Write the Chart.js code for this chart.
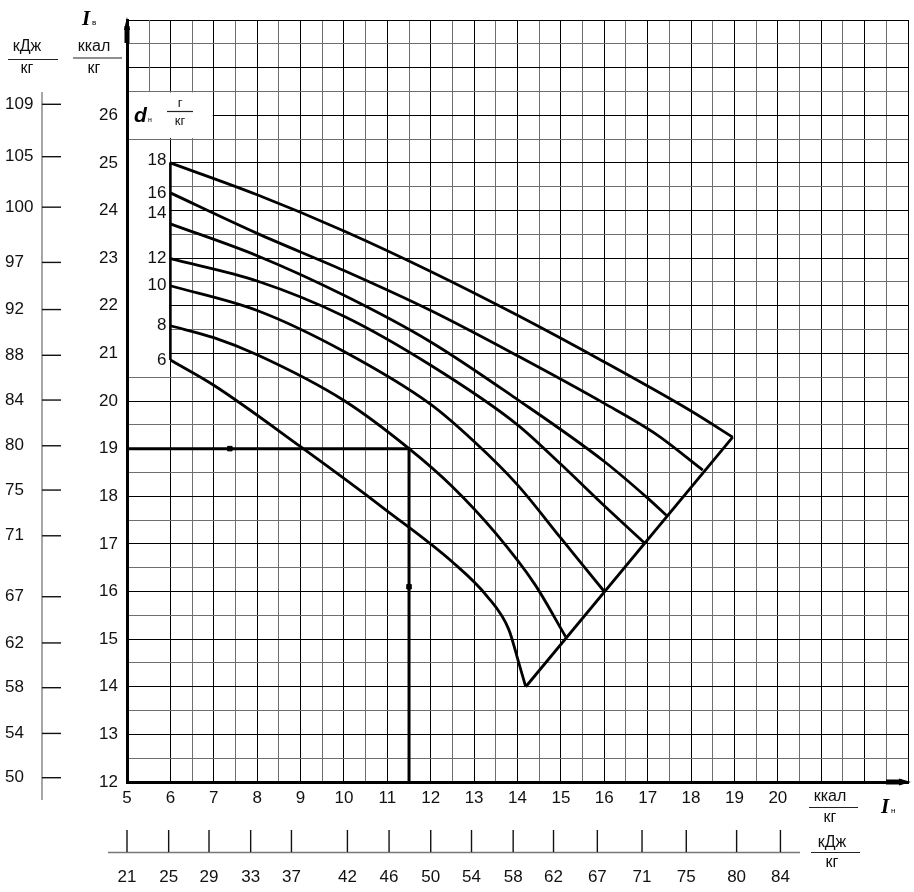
<!DOCTYPE html>
<html><head><meta charset="utf-8">
<script src="https://cdn.jsdelivr.net/npm/chart.js@4.4.1/dist/chart.umd.min.js"></script>
<style>html,body{margin:0;padding:0;background:#fff;overflow:hidden}canvas{display:block}</style>
</head><body>
<canvas id="c" width="914" height="892" style="width:914px;height:892px"></canvas>
<script>
// ---- axis ranges / tick labels ----
const X_MIN = 5, X_MAX = 23, X_LABEL_MAX = 20;
const Y_MIN = 12, Y_MAX = 28, Y_LABEL_MAX = 26;

// ---- moisture content curves d, g/kg : [I_n (kcal/kg), I_v (kcal/kg)] ----
const dLevels = ['18', '16', '14', '12', '10', '8', '6'];
const d18 = [[6,25.0],[8,24.33],[10,23.57],[12,22.72],[14,21.8],[16,20.82],[18,19.79],[18.96,19.24]];
const d16 = [[6,24.37],[8,23.52],[10,22.74],[12,21.9],[14,20.95],[16,19.95],[17.2,19.3],[18.27,18.55]];
const d14 = [[6,23.72],[8,23.05],[10,22.22],[12,21.24],[14,20.03],[16,18.73],[17,17.96],[17.43,17.6]];
const d12 = [[6,22.99],[8,22.52],[10,21.78],[12,20.75],[14,19.5],[15,18.67],[16,17.8],[16.95,17.0]];
const d10 = [[6,22.42],[8,21.9],[10,21.04],[12,19.93],[13,19.15],[14,18.24],[15,17.12],[16,16.0]];
const d8  = [[6,21.58],[7,21.33],[8,20.97],[10,20.01],[11.5,19.0],[12.5,18.2],[13.5,17.22],[14.4,16.15],[15.11,15.05]];
const d6  = [[6,20.86],[7,20.33],[9,19.04],[11,17.69],[12.5,16.62],[13.3,15.9],[13.8,15.2],[14.03,14.5],[14.19,14.0]];
const dCurves = [d18, d16, d14, d12, d10, d8, d6];

const saturationLine = [[14.19,14.0],[18.96,19.24]];
const leftBoundary = [[6,25.0],[6,20.86]];
const examplePath = [[5,19],[7.37,19],[11.5,19],[11.5,16.1],[11.5,12]];
const exampleMarks = [0,1,0,1,0];

// ---- secondary kJ/kg scales (labels and where they sit on the kcal scales) ----
const kjLeftLabels = ['109','105','100','97','92','88','84','80','75','71','67','62','58','54','50'];
const kjLeftAt = [26.23,25.13,24.07,22.91,21.92,20.96,20.02,19.06,18.13,17.17,15.89,14.92,13.98,13.02,12.09];
const kjBottomLabels = ['21','25','29','33','37','42','46','50','54','58','62','67','71','75','80','84'];
const kjBottomAt = [5.0,5.96,6.89,7.85,8.79,10.08,11.04,12.0,12.94,13.9,14.83,15.84,16.87,17.89,19.05,20.06];

// ---- styles ----
const SANS = "'Liberation Sans', Arial, sans-serif";
const SERIF = "'Liberation Serif', 'Times New Roman', serif";
const MAJOR = '#000', MINOR = '#6e6e6e', TXT = '#111';
const toPts = arr => arr.map(p => ({x: p[0], y: p[1]}));

const gridColor = ctx => {
  const v = ctx.tick.value;
  if (ctx.scale.axis === 'x' && v === 5.5) return 'rgba(0,0,0,0)';
  return Number.isInteger(v) ? MAJOR : MINOR;
};

const datasets = [];
dCurves.forEach((c, i) => datasets.push({
  label: 'd=' + dLevels[i], data: toPts(c), showLine: true, borderColor: '#000',
  borderWidth: 2.8, pointRadius: 0, cubicInterpolationMode: 'monotone', fill: false
}));
datasets.push({label: 'sat', data: toPts(saturationLine), showLine: true, borderColor: '#000', borderWidth: 2.8, pointRadius: 0});
datasets.push({label: 'bound', data: toPts(leftBoundary), showLine: true, borderColor: '#000', borderWidth: 2.6, pointRadius: 0});
datasets.push({label: 'example', data: toPts(examplePath), showLine: true, borderColor: '#000', borderWidth: 3,
  pointRadius: exampleMarks.map(m => m ? 3.2 : 0), pointStyle: 'rect', pointBackgroundColor: '#000', pointBorderColor: '#000', pointBorderWidth: 1});

function txt(ctx, s, x, y, font, align, base) {
  ctx.font = font; ctx.textAlign = align || 'left'; ctx.textBaseline = base || 'middle';
  ctx.fillText(s, x, y);
}
function hline(ctx, x0, x1, y, w, c) {
  ctx.strokeStyle = c; ctx.lineWidth = w; ctx.beginPath(); ctx.moveTo(x0, y); ctx.lineTo(x1, y); ctx.stroke();
}
function vline(ctx, x, y0, y1, w, c) {
  ctx.strokeStyle = c; ctx.lineWidth = w; ctx.beginPath(); ctx.moveTo(x, y0); ctx.lineTo(x, y1); ctx.stroke();
}
function fraction(ctx, top, bottom, cx, yTop, yLine, yBot, x0, x1, font) {
  ctx.fillStyle = TXT;
  txt(ctx, top, cx, yTop, font, 'center');
  hline(ctx, x0, x1, yLine, 1.2, '#222');
  txt(ctx, bottom, cx, yBot, font, 'center');
}

const decor = {
  id: 'decor',
  beforeDatasetsDraw(chart) {
    const {ctx, scales: {x, y}} = chart;
    ctx.save();
    ctx.fillStyle = '#fff';
    const blank = (x0, y0, x1, y1) => {
      const l = x.getPixelForValue(x0) + 2, r = x.getPixelForValue(x1) - 1;
      const t = y.getPixelForValue(y1) + 1, b = y.getPixelForValue(y0) - 1;
      ctx.fillRect(l, t, r - l, b - t);
    };
    blank(5, 20.5, 6, 25.5);
    blank(5, 25.5, 7, 26.5);
    const px = Math.round(x.getPixelForValue(5.5)) + 0.5;
    vline(ctx, px, y.getPixelForValue(Y_MAX), y.getPixelForValue(26.5), 1, MINOR);
    ctx.restore();
  },
  afterDraw(chart) {
    const {ctx, scales: {x, y}, chartArea: ca} = chart;
    ctx.save();
    ctx.fillStyle = '#000';
    // axis arrows
    const ax = x.getPixelForValue(X_MIN), ay = y.getPixelForValue(Y_MIN);
    ctx.beginPath(); ctx.moveTo(ax, ca.top - 3); ctx.lineTo(ax + 3, ca.top + 10); ctx.lineTo(ax - 3, ca.top + 10); ctx.closePath(); ctx.fill();
    vline(ctx, ax, ca.top + 6, ca.top + 23, 5, '#000');
    ctx.beginPath(); ctx.moveTo(ca.right + 3, ay); ctx.lineTo(ca.right - 9, ay - 3.5); ctx.lineTo(ca.right - 9, ay + 3.5); ctx.closePath(); ctx.fill();
    hline(ctx, ca.right - 22, ca.right - 6, ay, 5, '#000');

    // curve labels
    ctx.fillStyle = TXT;
    const lx = x.getPixelForValue(6) - 4;
    dLevels.forEach((lab, i) => {
      let py = y.getPixelForValue(dCurves[i][0][1]);
      if (lab === '14') py -= 11;
      if (lab === '18') py -= 3;
      txt(ctx, lab, lx, py, '17px ' + SANS, 'right');
    });

    // left kJ/kg scale
    vline(ctx, 42, 92, 800, 1.3, '#777');
    kjLeftLabels.forEach((lab, i) => {
      const py = y.getPixelForValue(kjLeftAt[i]);
      hline(ctx, 42, 61, py, 1.4, '#111');
      ctx.fillStyle = TXT;
      txt(ctx, lab, 5, py, '17px ' + SANS, 'left');
    });
    // bottom kJ/kg scale
    hline(ctx, 108, 800, 852.5, 1.3, '#777');
    kjBottomLabels.forEach((lab, i) => {
      const px = x.getPixelForValue(kjBottomAt[i]);
      vline(ctx, px, 830, 852, 1.4, '#111');
      ctx.fillStyle = TXT;
      txt(ctx, lab, px, 877, '17px ' + SANS, 'center');
    });

    // unit fractions
    fraction(ctx, 'кДж', 'кг', 27, 47, 59.5, 69, 8, 58, '16px ' + SANS);
    fraction(ctx, 'ккал', 'кг', 94, 47, 58, 69, 73, 122, '16px ' + SANS);
    fraction(ctx, 'ккал', 'кг', 830, 797, 807.5, 818, 809, 858, '16px ' + SANS);
    fraction(ctx, 'кДж', 'кг', 832, 843, 852.5, 863, 811, 860, '16px ' + SANS);
    fraction(ctx, 'г', 'кг', 180, 103, 111.5, 121, 167, 193, '13px ' + SANS);

    // axis symbols
    ctx.fillStyle = '#000';
    txt(ctx, 'I', 82, 25, 'italic bold 21px ' + SERIF, 'left', 'alphabetic');
    txt(ctx, 'в', 92, 25, '8px ' + SANS, 'left', 'alphabetic');
    txt(ctx, 'I', 881, 813, 'italic bold 21px ' + SERIF, 'left', 'alphabetic');
    txt(ctx, 'н', 891, 813, '8px ' + SANS, 'left', 'alphabetic');
    txt(ctx, 'd', 134, 122, 'italic bold 21px ' + SANS, 'left', 'alphabetic');
    txt(ctx, 'н', 148, 122, '7px ' + SANS, 'left', 'alphabetic');
    ctx.restore();
  }
};

new Chart(document.getElementById('c'), {
  type: 'scatter',
  data: {datasets},
  plugins: [decor],
  options: {
    responsive: false, animation: false, devicePixelRatio: 1,
    layout: {padding: {top: 20, right: 6, left: 0, bottom: 0}},
    plugins: {legend: {display: false}, tooltip: {enabled: false}},
    scales: {
      x: {
        type: 'linear', min: X_MIN, max: X_MAX,
        afterFit: s => { s.height = 110; },
        ticks: {stepSize: 0.5, autoSkip: false, maxRotation: 0, minRotation: 0, padding: 6,
          color: TXT, font: {family: SANS, size: 17},
          callback: v => (Number.isInteger(v) && v <= X_LABEL_MAX) ? String(v) : ''},
        grid: {color: gridColor, lineWidth: 1, drawTicks: false},
        border: {color: '#000', width: 3}
      },
      y: {
        type: 'linear', min: Y_MIN, max: Y_MAX,
        afterFit: s => { s.width = 127; },
        ticks: {stepSize: 0.5, autoSkip: false, padding: 9,
          color: TXT, font: {family: SANS, size: 17},
          callback: v => (Number.isInteger(v) && v <= Y_LABEL_MAX) ? String(v) : ''},
        grid: {color: gridColor, lineWidth: 1, drawTicks: false},
        border: {color: '#000', width: 3}
      }
    }
  }
});
</script>
</body></html>
